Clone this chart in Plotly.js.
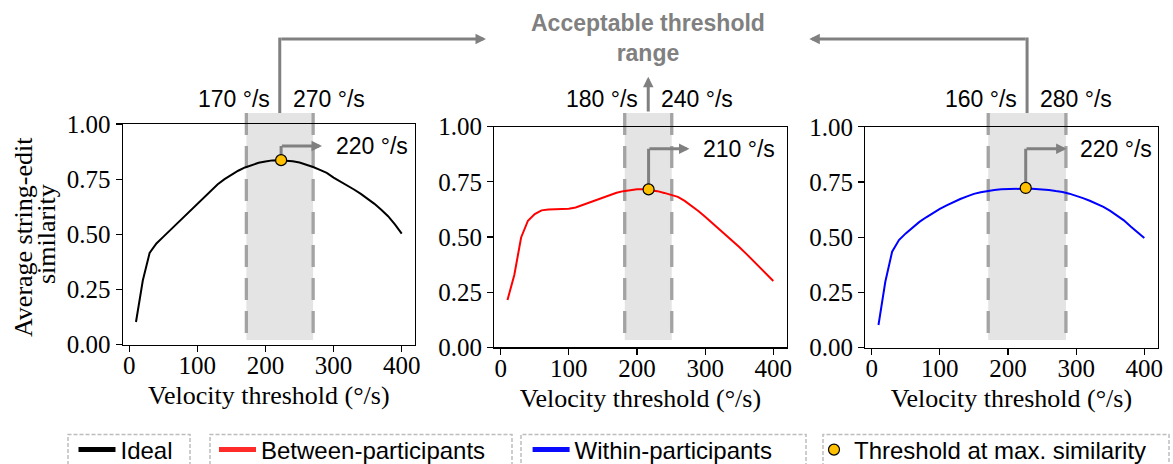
<!DOCTYPE html>
<html><head><meta charset="utf-8">
<script src="https://cdn.plot.ly/plotly-3.0.1.min.js"></script>
<style>html,body{margin:0;padding:0;background:#fff}#chart{width:1173px;height:464px}</style>
</head><body><div id="chart"></div>
<script>
// ---------- data ----------
const velocity = [10,20,30,40,50,60,70,80,90,100,110,120,130,140,150,160,170,180,190,200,
                  210,220,230,240,250,260,270,280,290,300,310,320,330,340,350,360,370,380,390,400];
const ideal = [0.102,0.290,0.415,0.458,0.488,0.518,0.550,0.579,0.610,0.639,0.670,0.700,0.727,0.750,0.771,0.788,0.803,0.815,0.824,0.830,
               0.835,0.836,0.835,0.831,0.825,0.816,0.805,0.792,0.778,0.757,0.740,0.722,0.703,0.683,0.662,0.638,0.611,0.582,0.545,0.503];
const between = [0.215,0.328,0.498,0.574,0.604,0.621,0.625,0.625,0.625,0.628,0.634,0.645,0.657,0.669,0.681,0.692,0.701,0.708,0.714,0.717,
                 0.717,0.714,0.708,0.700,0.692,0.682,0.664,0.643,0.618,0.592,0.565,0.538,0.511,0.484,0.455,0.425,0.395,0.364,0.333,0.301];
const within = [0.102,0.298,0.434,0.487,0.517,0.545,0.569,0.590,0.610,0.628,0.644,0.659,0.673,0.685,0.696,0.703,0.709,0.714,0.717,0.718,
                0.720,0.720,0.720,0.718,0.717,0.714,0.709,0.705,0.697,0.688,0.677,0.665,0.652,0.637,0.619,0.599,0.576,0.548,0.523,0.496];
const seriesNames = ['Ideal', 'Between-participants', 'Within-participants'];
const peakName = 'Threshold at max. similarity';
const peakVelocity = [223, 217, 226];
const peakSimilarity = [0.836, 0.716, 0.723];
const peakLabels = ['220 °/s', '210 °/s', '220 °/s'];
const rangeLow = [172, 182, 171];
const rangeHigh = [270, 251, 285];
const rangeLowLabels = ['170 °/s', '180 °/s', '160 °/s'];
const rangeHighLabels = ['270 °/s', '240 °/s', '280 °/s'];
const xTickVals = [0, 100, 200, 300, 400];
const yTickVals = [0, 0.25, 0.5, 0.75, 1];
const yTickText = ['0.00', '0.25', '0.50', '0.75', '1.00'];
const xTitle = 'Velocity threshold (°/s)';
const yTitleLines = ['Average string-edit', 'similarity'];
const topTitle = 'Acceptable threshold<br>range';

// ---------- layout helpers ----------
const W = 1173, H = 464;
const fx = p => p / W;
const fy = p => 1 - p / H;
const seriesY = [ideal, between, within];
const seriesColors = ['#000000', '#ff0000', '#0000ff'];
const legendColors = ['#000000', '#ff2b2b', '#0a0aff'];
const panelX = [[122.7, 415.0], [494.2, 786.6], [865.2, 1157.6]];
const panelY = [[124.0, 344.5], [126.7, 347.4], [126.8, 347.5]];
const serif = 'Liberation Serif';
const sans = 'Liberation Sans';
const gray = '#808080';

const traces = [];
const layout = {
  width: W, height: H,
  margin: {l: 0, r: 0, t: 0, b: 0, autoexpand: false},
  paper_bgcolor: '#ffffff', plot_bgcolor: 'rgba(0,0,0,0)',
  font: {family: sans, color: '#000'},
  hovermode: false,
  shapes: [], annotations: []
};

for (let i = 0; i < 3; i++) {
  const n = i === 0 ? '' : String(i + 1);
  const xa = 'x' + n, ya = 'y' + n;
  layout['xaxis' + n] = {
    domain: [fx(panelX[i][0]), fx(panelX[i][1])], anchor: ya,
    range: [-9.5, 419.5], tickvals: xTickVals, ticktext: xTickVals.map(String),
    ticks: 'outside', ticklen: 6, tickwidth: 1.2, tickcolor: '#000', ticklabelstandoff: -8,
    showline: true, mirror: true, linecolor: '#000', linewidth: 1.2,
    showgrid: false, zeroline: false, fixedrange: true,
    tickfont: {family: serif, size: 25, color: '#000'},
    title: {text: xTitle, font: {family: serif, size: 26, color: '#000'}, standoff: 8}
  };
  layout['yaxis' + n] = {
    domain: [fy(panelY[i][1]), fy(panelY[i][0])], anchor: xa,
    range: [0, 1], tickvals: yTickVals, ticktext: yTickText,
    ticks: 'outside', ticklen: 6, tickwidth: 1.2, tickcolor: '#000',
    showline: true, mirror: true, linecolor: '#000', linewidth: 1.2,
    showgrid: false, zeroline: false, fixedrange: true,
    tickfont: {family: serif, size: 25, color: '#000'}
  };

  // curve
  traces.push({type: 'scatter', mode: 'lines', x: velocity, y: seriesY[i], xaxis: xa, yaxis: ya,
    line: {color: seriesColors[i], width: 2}, showlegend: false, name: seriesNames[i]});
  // peak marker
  traces.push({type: 'scatter', mode: 'markers', x: [peakVelocity[i]], y: [peakSimilarity[i]], xaxis: xa, yaxis: ya,
    marker: {color: '#ffc000', size: 11, line: {color: '#000', width: 1.2}},
    name: peakName, showlegend: i === 0, legend: 'legend4'});

  // shaded acceptable range (extends above the axes)
  const yb = fy(340), yt = fy(113);
  layout.shapes.push({type: 'rect', xref: xa, yref: 'paper', x0: rangeLow[i], x1: rangeHigh[i], y0: yb, y1: yt,
    fillcolor: '#e4e4e4', line: {width: 0}, layer: 'below'});
  [rangeLow[i], rangeHigh[i]].forEach(v => layout.shapes.push({type: 'line', xref: xa, yref: 'paper',
    x0: v, x1: v, y0: yt, y1: yb, line: {color: '#a3a3a3', width: 3.3, dash: '22px,11px'}, layer: 'below'}));

  // elbow from peak marker
  layout.shapes.push({type: 'line', xref: xa, yref: ya, x0: peakVelocity[i], x1: peakVelocity[i],
    y0: peakSimilarity[i], y1: 0.9, line: {color: gray, width: 3}, layer: 'below'});
  layout.annotations.push({xref: xa, yref: ya, axref: xa, ayref: ya, x: peakVelocity[i] + 60, y: 0.9,
    ax: peakVelocity[i] - 1, ay: 0.9, text: '', showarrow: true, arrowhead: 2, arrowsize: 0.7, arrowwidth: 3,
    arrowcolor: gray, standoff: 0, startstandoff: 0});
  layout.annotations.push({xref: xa, yref: ya, x: peakVelocity[i] + 77, y: 0.9, xanchor: 'left', yanchor: 'middle',
    text: peakLabels[i], showarrow: false, font: {family: sans, size: 23, color: '#000'}});

  // range labels above
  const mid = (rangeLow[i] + rangeHigh[i]) / 2;
  layout.annotations.push({xref: xa, yref: 'paper', x: mid, y: fy(99), xanchor: 'right', yanchor: 'middle',
    xshift: -8, text: rangeLowLabels[i], showarrow: false, font: {family: sans, size: 23, color: '#000'}});
  layout.annotations.push({xref: xa, yref: 'paper', x: mid, y: fy(99), xanchor: 'left', yanchor: 'middle',
    xshift: 11, text: rangeHighLabels[i], showarrow: false, font: {family: sans, size: 23, color: '#000'}});

  if (i === 1) {
    layout.annotations.push({xref: xa, yref: 'paper', x: mid, y: fy(76.7), ax: 0, ay: 36.3,
      text: '', showarrow: true, arrowhead: 2, arrowsize: 0.7, arrowwidth: 3, arrowcolor: gray, standoff: 0});
  } else {
    layout.shapes.push({type: 'line', xref: xa, yref: 'paper', x0: mid, x1: mid, y0: fy(113), y1: fy(37.6),
      line: {color: gray, width: 3}});
  }
}

// top bracket arrows
layout.annotations.push({xref: 'paper', yref: 'paper', x: fx(486), y: fy(39), ax: -(486 - 279.8), ay: 0,
  text: '', showarrow: true, arrowhead: 2, arrowsize: 0.7, arrowwidth: 3, arrowcolor: gray, standoff: 0});
layout.annotations.push({xref: 'paper', yref: 'paper', x: fx(809.3), y: fy(39), ax: 1027.1 - 809.3, ay: 0,
  text: '', showarrow: true, arrowhead: 2, arrowsize: 0.7, arrowwidth: 3, arrowcolor: gray, standoff: 0});
layout.annotations.push({xref: 'paper', yref: 'paper', x: fx(648.5), y: fy(38), xanchor: 'center', yanchor: 'middle',
  text: topTitle, showarrow: false, font: {family: sans, size: 23, color: gray, weight: 'bold'}});

// y-axis title (two lines, rotated)
layout.annotations.push({xref: 'paper', yref: 'paper', x: fx(23), y: fy(237), xanchor: 'center', yanchor: 'middle',
  textangle: -90, text: yTitleLines[0], showarrow: false, font: {family: serif, size: 26, color: '#000'}});
layout.annotations.push({xref: 'paper', yref: 'paper', x: fx(46), y: fy(234), xanchor: 'center', yanchor: 'middle',
  textangle: -90, text: yTitleLines[1], showarrow: false, font: {family: serif, size: 26, color: '#000'}});

// legends
for (let i = 0; i < 3; i++) {
  traces.push({type: 'scatter', mode: 'lines', x: [null], y: [null], name: seriesNames[i],
    line: {color: legendColors[i], width: 5}, showlegend: true, legend: i === 0 ? 'legend' : 'legend' + (i + 1)});
}
const legendLeft = [73.5, 214, 527.6, 814];
const legendKeys = ['legend', 'legend2', 'legend3', 'legend4'];
legendKeys.forEach((k, j) => {
  layout[k] = {x: fx(legendLeft[j]), y: fy(450), xanchor: 'left', yanchor: 'middle', orientation: 'h',
    bgcolor: 'rgba(0,0,0,0)', borderwidth: 0, itemwidth: j < 3 ? 37 : 30,
    font: {family: sans, size: 24, color: '#000'}};
});
const legendBoxes = [[68, 190], [210, 512], [521, 806], [823, 1169]];
legendBoxes.forEach(b => layout.shapes.push({type: 'rect', xref: 'paper', yref: 'paper',
  x0: fx(b[0]), x1: fx(b[1]), y0: fy(470), y1: fy(434.5), line: {color: '#bdbdbd', width: 1.5, dash: '4px,2px'}}));

Plotly.newPlot('chart', traces, layout, {staticPlot: true, displayModeBar: false});
</script>
</body></html>
